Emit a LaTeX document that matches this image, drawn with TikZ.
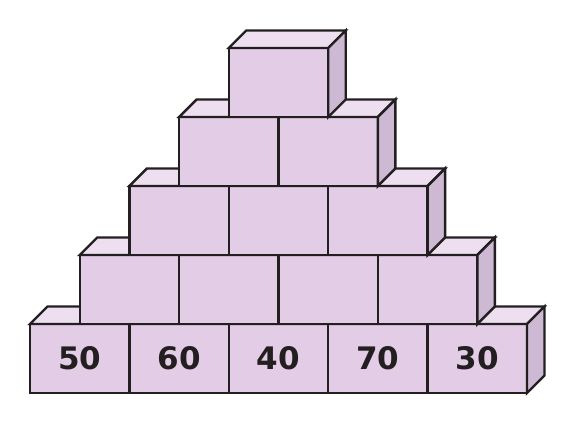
\documentclass[tikz,border=0pt]{standalone}
\usepackage{fontspec}
\setmainfont{DejaVu Sans}
\usetikzlibrary{positioning}
\definecolor{frontcol}{HTML}{E3CCE5}
\definecolor{topcol}{HTML}{EDDFEF}
\definecolor{sidecol}{HTML}{CDB9D3}
\definecolor{ink}{HTML}{231F20}
\tikzset{
  bx/.style={rectangle, minimum width=99.4pt, minimum height=69pt, inner sep=0pt, outer sep=0pt, draw=ink, fill=frontcol, text=ink, font=\fontsize{31}{31}\selectfont\bfseries},
  tp/.style={draw=ink, fill=topcol},
  sd/.style={draw=ink, fill=sidecol},
  node distance=0pt
}

\begin{document}
\begin{tikzpicture}[x=1pt, y=1pt, line width=2.4pt]
	\useasboundingbox (0,0) rectangle (573,423);
	% bottom row
	\node[bx, anchor=south west] (b11) at (30,30) {50};
	\node[bx, right=of b11] (b12) {60};
	\node[bx, right=of b12] (b13) {40};
	\node[bx, right=of b13] (b14) {70};
	\node[bx, right=of b14] (b15) {30};
	\filldraw[tp] (b11.north west) -- ++(17.5,17.5) -- ([shift={(17.5,17.5)}]b15.north east) -- (b15.north east) -- cycle;
	\filldraw[sd] (b15.north east) -- ++(17.5,17.5) -- ++(0,-69) -- (b15.south east) -- cycle;
	
	% second row
	\node[bx, anchor=south west] (b21) at (b11.north) {};
	\node[bx, right=of b21] (b22) {};
	\node[bx, right=of b22] (b23) {};
	\node[bx, right=of b23] (b24) {};
	\filldraw[tp] (b21.north west) -- ++(17.5,17.5) -- ([shift={(17.5,17.5)}]b24.north east) -- (b24.north east) -- cycle;
	\filldraw[sd] (b24.north east) -- ++(17.5,17.5) -- ++(0,-69) -- (b24.south east) -- cycle;
	
	% third row
	\node[bx, anchor=south west] (b31) at (b21.north) {};
	\node[bx, right=of b31] (b32) {};
	\node[bx, right=of b32] (b33) {};
	\filldraw[tp] (b31.north west) -- ++(17.5,17.5) -- ([shift={(17.5,17.5)}]b33.north east) -- (b33.north east) -- cycle;
	\filldraw[sd] (b33.north east) -- ++(17.5,17.5) -- ++(0,-69) -- (b33.south east) -- cycle;
	
	% fourth row
	\node[bx, anchor=south west] (b41) at (b31.north) {};
	\node[bx, right=of b41] (b42) {};
	\filldraw[tp] (b41.north west) -- ++(17.5,17.5) -- ([shift={(17.5,17.5)}]b42.north east) -- (b42.north east) -- cycle;
	\filldraw[sd] (b42.north east) -- ++(17.5,17.5) -- ++(0,-69) -- (b42.south east) -- cycle;
	
	% top
	\node[bx, anchor=south west] (b51) at (b41.north) {};
	\filldraw[tp] (b51.north west) -- ++(17.5,17.5) -- ([shift={(17.5,17.5)}]b51.north east) -- (b51.north east) -- cycle;
	\filldraw[sd] (b51.north east) -- ++(17.5,17.5) -- ++(0,-69) -- (b51.south east) -- cycle;
\end{tikzpicture}
\end{document}
